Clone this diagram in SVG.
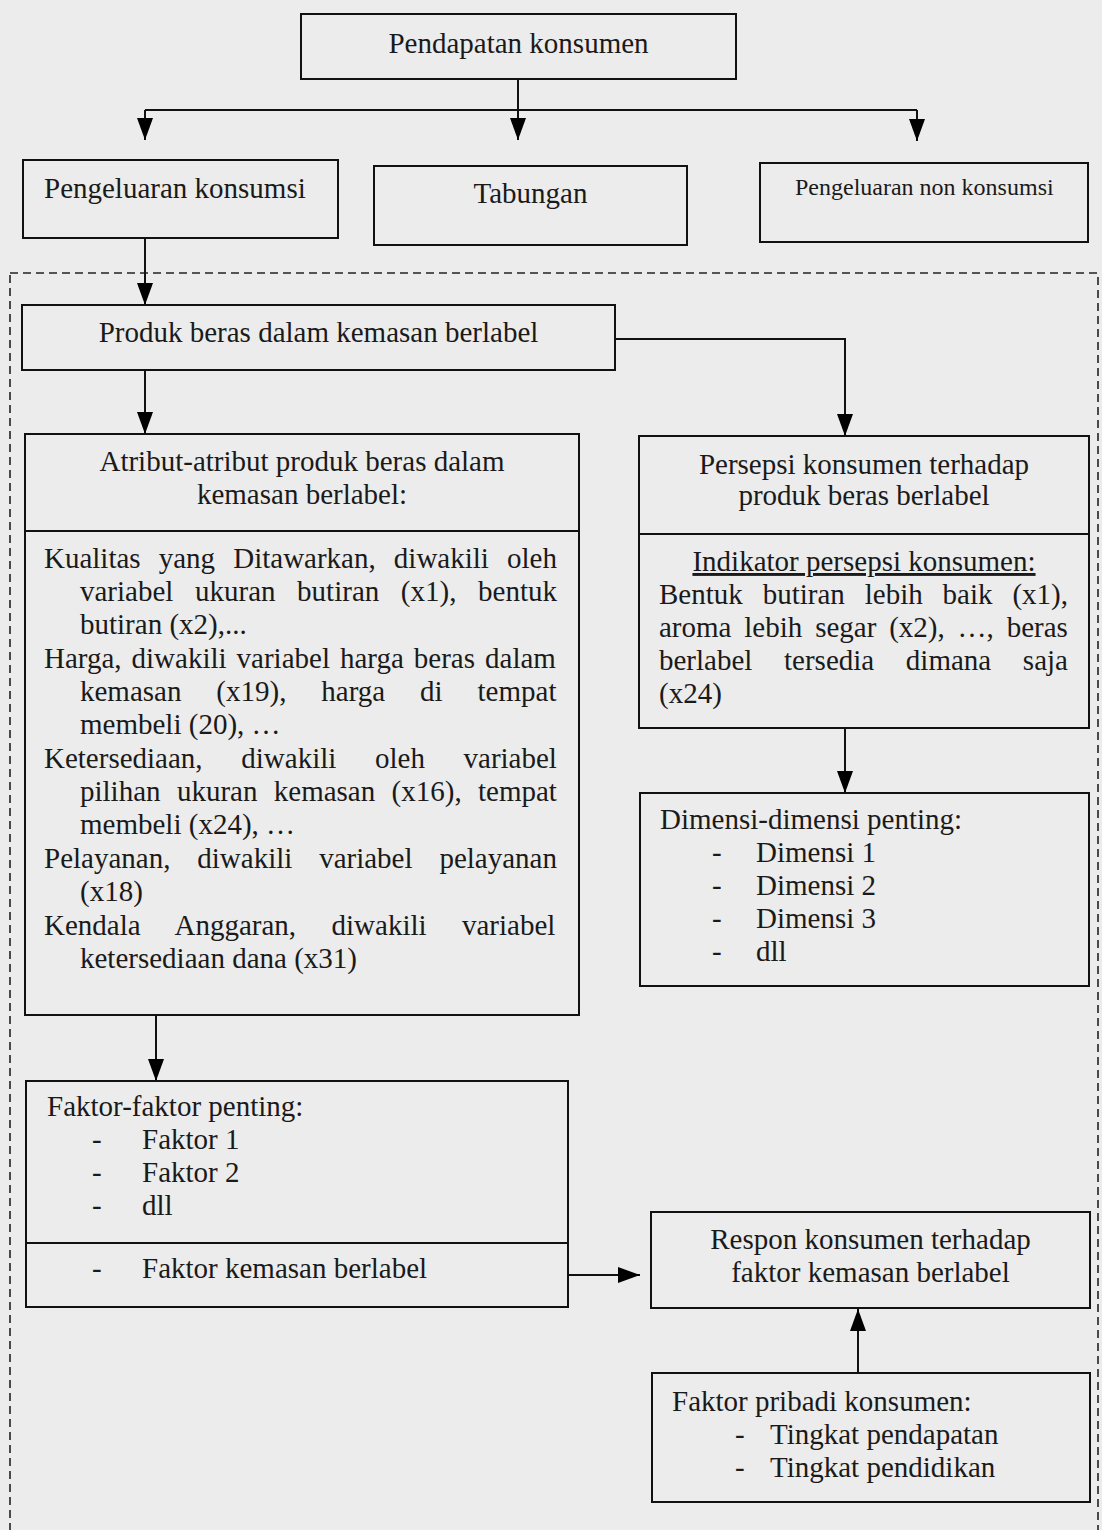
<svg xmlns="http://www.w3.org/2000/svg" width="1102" height="1530" viewBox="0 0 1102 1530">
<defs>
<marker id="ah" markerUnits="userSpaceOnUse" viewBox="0 0 22 16" refX="22" refY="8" markerWidth="22" markerHeight="16" orient="auto">
<path d="M0,0 L22,8 L0,16 z" fill="#000"/>
</marker>
<style>
.b{fill:none;stroke:#111;stroke-width:2}
.t{font-family:"Liberation Serif","Times New Roman",serif;font-size:29px;fill:#1a1a1a}
.s{font-size:24px}
.c{text-anchor:middle}
.e{text-anchor:end}
.ln{fill:none;stroke:#111;stroke-width:2}
.ar{fill:none;stroke:#111;stroke-width:2;marker-end:url(#ah)}
</style>
</defs>
<rect x="0" y="0" width="1102" height="1530" fill="#ececec"/>
<rect id="boundary" x="10" y="273" width="1088" height="1270" fill="none" stroke="#222" stroke-width="1.6" stroke-dasharray="8 5"/>

<g id="connectors">
<path class="ln" d="M518,79 V110 M145,110 H917"/>
<path class="ar" d="M145,110 V140"/>
<path class="ar" d="M518,110 V140"/>
<path class="ar" d="M917,110 V141"/>
<path class="ar" d="M145,238 V305"/>
<path class="ar" d="M145,370 V434"/>
<path class="ar" d="M615,339 H845 V436"/>
<path class="ar" d="M845,728 V793"/>
<path class="ar" d="M156,1015 V1081"/>
<path class="ar" d="M568,1275 H640"/>
<path class="ar" d="M858,1373 V1309"/>
</g>

<g id="pendapatan">
<rect class="b" x="301" y="14" width="435" height="65"/>
<text class="t c" x="518.5" y="53">Pendapatan konsumen</text>
</g>

<g id="pengeluaran-konsumsi">
<rect class="b" x="23" y="160" width="315" height="78"/>
<text class="t" x="44" y="198">Pengeluaran konsumsi</text>
</g>

<g id="tabungan">
<rect class="b" x="374" y="166" width="313" height="79"/>
<text class="t c" x="530.5" y="203">Tabungan</text>
</g>

<g id="pengeluaran-non">
<rect class="b" x="760" y="163" width="328" height="79"/>
<text class="t s" x="795" y="195">Pengeluaran non konsumsi</text>
</g>

<g id="produk">
<rect class="b" x="22" y="305" width="593" height="65"/>
<text class="t c" x="318.5" y="342">Produk beras dalam kemasan berlabel</text>
</g>

<g id="atribut">
<rect class="b" x="25" y="434" width="554" height="581"/>
<line class="ln" x1="25" y1="531" x2="579" y2="531"/>
<text class="t c" x="302" y="471">Atribut-atribut produk beras dalam</text>
<text class="t c" x="302" y="504">kemasan berlabel:</text>
<text class="t" x="44" y="568" word-spacing="10.85">Kualitas yang Ditawarkan, diwakili oleh</text>
<text class="t" x="80" y="601" word-spacing="14.35">variabel ukuran butiran (x1), bentuk</text>
<text class="t" x="80" y="634">butiran (x2),...</text>
<text class="t" x="44" y="668" word-spacing="2.74">Harga, diwakili variabel harga beras dalam</text>
<text class="t" x="80" y="701" word-spacing="27.65">kemasan (x19), harga di tempat</text>
<text class="t" x="80" y="734">membeli (20), …</text>
<text class="t" x="44" y="768" word-spacing="31.4">Ketersediaan, diwakili oleh variabel</text>
<text class="t" x="80" y="801" word-spacing="9.1">pilihan ukuran kemasan (x16), tempat</text>
<text class="t" x="80" y="834">membeli (x24), …</text>
<text class="t" x="44" y="868" word-spacing="19.6">Pelayanan, diwakili variabel pelayanan</text>
<text class="t" x="80" y="901">(x18)</text>
<text class="t" x="44" y="935" word-spacing="28.2">Kendala Anggaran, diwakili variabel</text>
<text class="t" x="80" y="968">ketersediaan dana (x31)</text>
</g>

<g id="persepsi">
<rect class="b" x="639" y="436" width="450" height="292"/>
<line class="ln" x1="639" y1="534" x2="1089" y2="534"/>
<text class="t c" x="864" y="474">Persepsi konsumen terhadap</text>
<text class="t c" x="864" y="505">produk beras berlabel</text>
<text class="t c" x="864" y="571" text-decoration="underline">Indikator persepsi konsumen:</text>
<text class="t" x="659" y="604" word-spacing="12.65">Bentuk butiran lebih baik (x1),</text>
<text class="t" x="659" y="637" word-spacing="5.6">aroma lebih segar (x2), …, beras</text>
<text class="t" x="659" y="670" word-spacing="24.4">berlabel tersedia dimana saja</text>
<text class="t" x="659" y="703">(x24)</text>
</g>

<g id="dimensi">
<rect class="b" x="640" y="793" width="449" height="193"/>
<text class="t" x="660" y="829">Dimensi-dimensi penting:</text>
<text class="t" x="712" y="862">-</text><text class="t" x="756" y="862">Dimensi 1</text>
<text class="t" x="712" y="895">-</text><text class="t" x="756" y="895">Dimensi 2</text>
<text class="t" x="712" y="928">-</text><text class="t" x="756" y="928">Dimensi 3</text>
<text class="t" x="712" y="961">-</text><text class="t" x="756" y="961">dll</text>
</g>

<g id="faktor">
<rect class="b" x="26" y="1081" width="542" height="226"/>
<line class="ln" x1="26" y1="1243" x2="568" y2="1243"/>
<text class="t" x="47" y="1116">Faktor-faktor penting:</text>
<text class="t" x="92" y="1149">-</text><text class="t" x="142" y="1149">Faktor 1</text>
<text class="t" x="92" y="1182">-</text><text class="t" x="142" y="1182">Faktor 2</text>
<text class="t" x="92" y="1215">-</text><text class="t" x="142" y="1215">dll</text>
<text class="t" x="92" y="1278">-</text><text class="t" x="142" y="1278">Faktor kemasan berlabel</text>
</g>

<g id="respon">
<rect class="b" x="651" y="1212" width="439" height="96"/>
<text class="t c" x="870.5" y="1249">Respon konsumen terhadap</text>
<text class="t c" x="870.5" y="1282">faktor kemasan berlabel</text>
</g>

<g id="pribadi">
<rect class="b" x="652" y="1373" width="438" height="129"/>
<text class="t" x="672" y="1411">Faktor pribadi konsumen:</text>
<text class="t" x="735" y="1444">-</text><text class="t" x="770" y="1444">Tingkat pendapatan</text>
<text class="t" x="735" y="1477">-</text><text class="t" x="770" y="1477">Tingkat pendidikan</text>
</g>
</svg>
